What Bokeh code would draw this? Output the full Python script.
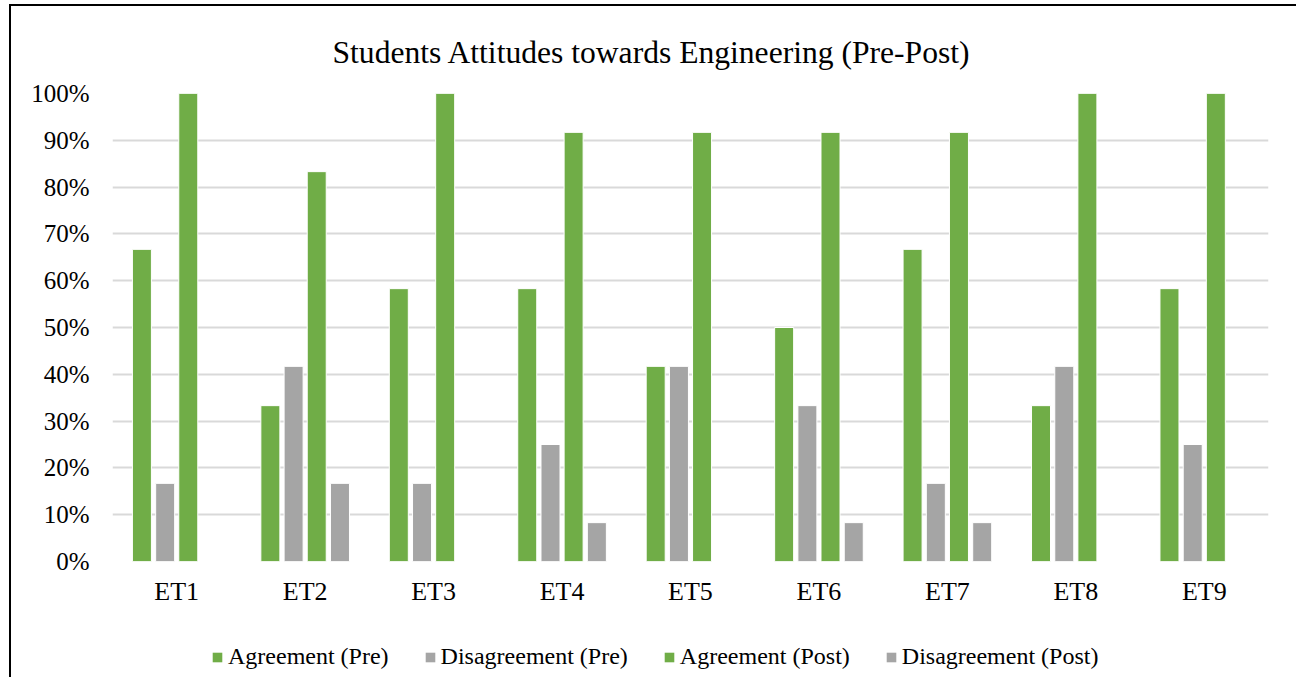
from bokeh.plotting import figure
from bokeh.models import ColumnDataSource, Legend, LegendItem, NumeralTickFormatter, FixedTicker
from bokeh.layouts import column
from bokeh.transform import dodge
from bokeh.embed import file_html
from bokeh.resources import INLINE

categories = ["ET1", "ET2", "ET3", "ET4", "ET5", "ET6", "ET7", "ET8", "ET9"]
agree_pre = [0.667, 0.333, 0.583, 0.583, 0.417, 0.500, 0.667, 0.333, 0.583]
disagree_pre = [0.167, 0.417, 0.167, 0.250, 0.417, 0.333, 0.167, 0.417, 0.250]
agree_post = [1.000, 0.833, 1.000, 0.917, 0.917, 0.917, 0.917, 1.000, 1.000]
disagree_post = [0.000, 0.167, 0.000, 0.083, 0.000, 0.083, 0.083, 0.000, 0.000]
series_names = ["Agreement (Pre)", "Disagreement (Pre)", "Agreement (Post)", "Disagreement (Post)"]
title_text = "Students Attitudes towards Engineering (Pre-Post)"

GREEN = "#70ad47"
GRAY = "#a5a5a5"
FONT = "Liberation Serif"
colors = [GREEN, GRAY, GREEN, GRAY]

src = ColumnDataSource(dict(cats=categories, ap=agree_pre, dp=disagree_pre,
                            apo=agree_post, dpo=disagree_post))

# ---- main chart ----
p = figure(x_range=categories, y_range=(0, 1), width=1285, height=609,
           output_backend="svg", toolbar_location=None,
           min_border_left=101, min_border_right=28, min_border_top=87, min_border_bottom=54)
p.outline_line_color = None
p.background_fill_color = "white"
p.border_fill_color = "white"

p.title.text = title_text
p.title.text_font = FONT
p.title.text_font_style = "normal"
p.title.text_font_size = "31.6px"
p.title.text_color = "black"
p.title.align = "left"
p.title.offset = 220
p.title.standoff = 47

offsets = [-0.271, -0.090, 0.090, 0.271]
cols = ["ap", "dp", "apo", "dpo"]
for off, col, c in zip(offsets, cols, colors):
    p.vbar(x=dodge("cats", off, range=p.x_range), top=col, width=0.148, bottom=0,
           source=src, fill_color=c, line_color="white", line_width=1)

p.yaxis.ticker = FixedTicker(ticks=[i / 10 for i in range(11)])
p.yaxis.formatter = NumeralTickFormatter(format="0%")
for ax in (p.xaxis, p.yaxis):
    ax.axis_line_color = None
    ax.major_tick_line_color = None
    ax.minor_tick_line_color = None
    ax.major_label_text_font = FONT
    ax.major_label_text_color = "black"
p.yaxis.major_label_text_font_size = "25px"
p.xaxis.major_label_text_font_size = "26px"
p.yaxis.major_label_standoff = 17
p.xaxis.major_label_standoff = 9

p.xgrid.grid_line_color = None
p.ygrid.grid_line_color = "#d9d9d9"
p.ygrid.grid_line_width = 2

# ---- legend strip ----
q = figure(width=1285, height=62, x_range=(0, 1), y_range=(0, 1),
           output_backend="svg", toolbar_location=None,
           x_axis_type=None, y_axis_type=None,
           min_border_left=0, min_border_right=0, min_border_top=0, min_border_bottom=0)
q.outline_line_color = None
q.xgrid.grid_line_color = None
q.ygrid.grid_line_color = None
q.border_fill_color = "white"
# legend-key source: a single placeholder kept outside the visible range
key_src = ColumnDataSource(dict(x=[-5.0], top=[0.0]))
legend_renderers = [q.vbar(x="x", top="top", width=0.1, source=key_src,
                           fill_color=c, line_color=None) for c in colors]
legend = Legend(items=[LegendItem(label=n, renderers=[r], index=0)
                       for n, r in zip(series_names, legend_renderers)],
                orientation="horizontal", location=(99, 7),
                label_text_font=FONT, label_text_font_size="24px", label_text_color="black",
                glyph_width=12, glyph_height=12, label_standoff=5, spacing=35,
                padding=6, margin=0, border_line_color=None, background_fill_alpha=0)
q.add_layout(legend)

layout = column(p, q, spacing=0)
layout.styles = {"border-left": "2px solid black", "border-top": "2px solid black",
                 "margin-left": "9px", "margin-top": "4px"}

open("out.html", "w").write(file_html(layout, INLINE))
